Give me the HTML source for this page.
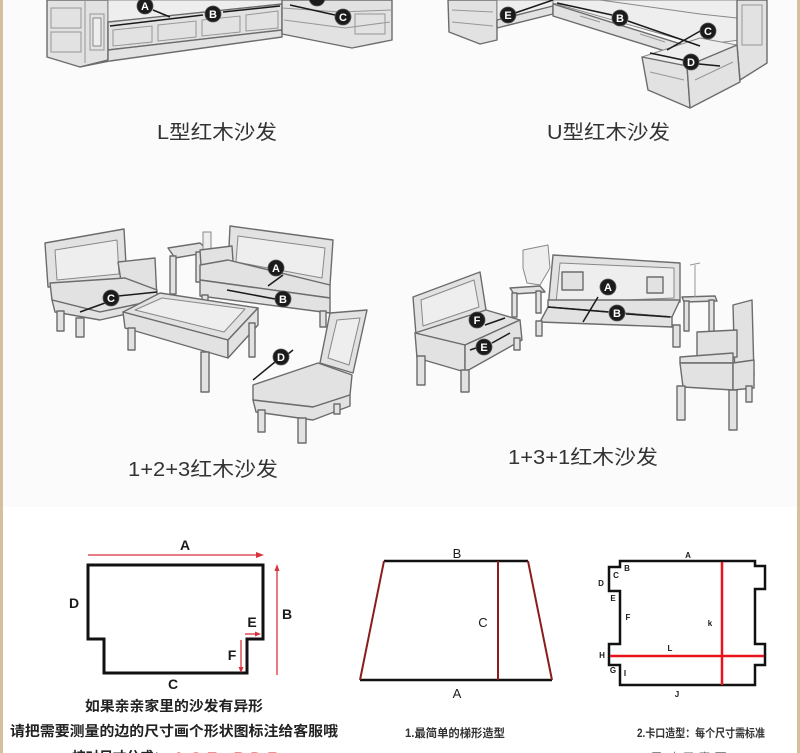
<!DOCTYPE html>
<html><head><meta charset="utf-8"><style>
html,body{margin:0;padding:0;background:#fff;}
svg{display:block;}
.f{fill:#e2e2e2;stroke:#6c6c6c;stroke-width:1.4;stroke-linejoin:round}
.g{fill:#eeeeee;stroke:#888;stroke-width:1;stroke-linejoin:round}
.d{fill:none;stroke:#979797;stroke-width:1}
.k{fill:none;stroke:#1a1a1a;stroke-width:1.5}
.t{font-family:"Liberation Sans","Noto Sans CJK SC",sans-serif;}
.bd circle{fill:#1b1b1b;stroke:#555;stroke-width:0.8}
.bd text{fill:#fff;font-family:"Liberation Sans",sans-serif;font-size:11px;font-weight:bold;text-anchor:middle}
</style></head><body>
<svg width="800" height="753" viewBox="0 0 800 753" xmlns="http://www.w3.org/2000/svg">
<!-- backgrounds -->
<rect x="0" y="0" width="800" height="507" fill="#fbfbfb"/>
<rect x="0" y="507" width="800" height="246" fill="#ffffff"/>
<rect x="0" y="0" width="3" height="753" fill="#d5bf9e"/>
<rect x="797" y="0" width="3" height="753" fill="#d5bf9e"/>

<!-- ===== L sofa ===== -->
<g>
<polygon class="f" points="47,0 108,0 108,60 80,67 47,57"/>
<polyline class="d" points="85,0 85,63"/>
<rect class="d" x="90" y="14" width="14" height="36"/>
<rect class="g" x="93" y="18" width="8" height="28"/>
<rect class="d" x="51" y="8" width="30" height="20"/>
<rect class="d" x="51" y="32" width="30" height="20"/>
<polygon class="g" points="108,0 282,0 282,4 108,22"/>
<polygon class="f" points="108,22 282,4 282,30 108,50"/>
<polygon class="d" points="113,30 152,26 152,42 113,46"/>
<polygon class="d" points="158,25 196,21 196,37 158,41"/>
<polygon class="d" points="202,20 240,16 240,32 202,36"/>
<polygon class="d" points="246,15 278,11 278,28 246,31"/>
<polygon class="f" points="80,67 108,60 108,50 282,30 282,37 110,61"/>
<polygon class="f" points="282,0 392,0 392,40 352,48 282,34"/>
<polyline class="d" points="282,8 340,12 392,10"/>
<polyline class="d" points="284,20 345,28 390,22"/>
<rect class="d" x="355" y="14" width="30" height="20"/>
<polyline class="k" points="110,26 203,15"/>
<polyline class="k" points="223,12 280,6"/>
<polyline class="k" points="153,10 170,17"/>
<polyline class="k" points="290,5 335,15"/>
<g class="bd"><circle cx="317" cy="-2" r="8"/></g>
<g class="bd"><circle cx="145" cy="6" r="8"/><text x="145" y="10">A</text></g>
<g class="bd"><circle cx="213" cy="14" r="8"/><text x="213" y="18">B</text></g>
<g class="bd"><circle cx="343" cy="17" r="8"/><text x="343" y="21">C</text></g>
</g>

<!-- ===== U sofa ===== -->
<g>
<polygon class="f" points="448,0 497,0 497,40 480,44 449,32"/>
<polyline class="d" points="452,10 493,12"/>
<polyline class="d" points="452,22 493,26"/>
<polygon class="g" points="497,0 553,0 553,6 497,20"/>
<polygon class="f" points="497,20 553,6 553,14 497,28"/>
<polygon class="g" points="553,0 740,0 740,40 700,45 553,3"/>
<polygon class="g" points="600,0 737,0 737,18 700,14" fill="#dcdcdc"/>
<polygon class="f" points="553,4 700,50 700,62 553,16"/>
<polyline class="d" points="580,16 600,22"/>
<polyline class="d" points="640,34 665,42"/>
<polygon class="f" points="737,0 767,0 767,63 740,80 737,45"/>
<rect class="d" x="742" y="5" width="20" height="40"/>
<polygon class="g" points="642,57 700,38 737,45 687,66"/>
<polygon class="f" points="642,57 687,66 690,108 648,90"/>
<polygon class="f" points="687,66 737,45 740,82 690,108"/>
<polyline class="d" points="650,72 684,80"/>
<polyline class="d" points="695,80 733,62"/>
<polyline class="k" points="515,13 553,0"/>
<polyline class="k" points="557,3 612,15"/>
<polyline class="k" points="628,21 700,46"/>
<polyline class="k" points="667,50 702,30"/>
<polyline class="k" points="650,53 683,60"/>
<polyline class="k" points="699,64 720,66"/>
<g class="bd"><circle cx="508" cy="15" r="8"/><text x="508" y="19">E</text></g>
<g class="bd"><circle cx="620" cy="18" r="8"/><text x="620" y="22">B</text></g>
<g class="bd"><circle cx="708" cy="31" r="8"/><text x="708" y="35">C</text></g>
<g class="bd"><circle cx="691" cy="62" r="8"/><text x="691" y="66">D</text></g>
</g>

<text class="t" x="157" y="139" font-size="20" fill="#333" textLength="120" lengthAdjust="spacingAndGlyphs">L型红木沙发</text>
<text class="t" x="547" y="139" font-size="20" fill="#333" textLength="123" lengthAdjust="spacingAndGlyphs">U型红木沙发</text>

<!-- ===== 1+2+3 ===== -->
<g>
<polygon class="f" points="45,243 124,229 127,282 48,287"/>
<polygon class="g" points="55,250 117,240 119,274 57,280"/>
<polygon class="f" points="118,262 155,258 157,300 125,306"/>
<polygon class="f" points="50,283 125,278 157,290 157,300 100,312 52,300"/>
<polygon class="f" points="52,300 100,312 157,300 157,307 100,320 55,312"/>
<rect class="f" x="57" y="311" width="7" height="20"/>
<rect class="f" x="76" y="318" width="8" height="19"/>
<rect class="f" x="149" y="305" width="6" height="11"/>
<polygon class="f" points="168,248 200,243 210,252 175,258"/>
<rect class="f" x="170" y="256" width="6" height="38"/>
<rect class="f" x="196" y="252" width="6" height="30"/>
<rect class="g" x="203" y="232" width="8" height="18"/>
<polygon class="f" points="230,226 333,240 330,285 228,268"/>
<polygon class="g" points="238,236 325,248 322,278 236,262"/>
<polygon class="f" points="200,250 232,246 234,276 202,282"/>
<polygon class="f" points="200,265 228,260 330,285 330,298 200,280"/>
<polygon class="f" points="200,280 330,298 330,313 200,296"/>
<rect class="f" x="202" y="295" width="6" height="24"/>
<rect class="f" x="320" y="311" width="6" height="16"/>
<polygon class="f" points="123,312 160,293 258,308 228,340"/>
<polygon class="g" points="135,310 162,298 245,309 224,332"/>
<polygon class="f" points="123,312 228,340 228,358 125,328"/>
<polygon class="f" points="228,340 258,308 258,325 228,358"/>
<rect class="f" x="128" y="328" width="7" height="22"/>
<rect class="f" x="201" y="352" width="8" height="40"/>
<rect class="f" x="249" y="323" width="6" height="34"/>
<polygon class="f" points="330,313 367,310 353,373 320,363"/>
<polygon class="g" points="337,320 360,318 349,365 328,358"/>
<polygon class="f" points="253,385 318,363 352,375 350,395 313,407 253,400"/>
<polygon class="f" points="253,400 313,407 350,395 350,406 313,420 256,412"/>
<rect class="f" x="258" y="410" width="7" height="22"/>
<rect class="f" x="298" y="418" width="8" height="25"/>
<rect class="f" x="334" y="404" width="6" height="10"/>
<polyline class="k" points="268,286 283,275"/>
<polyline class="k" points="227,290 275,299"/>
<polyline class="k" points="80,312 105,303"/>
<polyline class="k" points="118,296 157,292"/>
<polyline class="k" points="253,380 275,362"/>
<polyline class="k" points="288,354 293,350"/>
<g class="bd"><circle cx="276" cy="268" r="8"/><text x="276" y="272">A</text></g>
<g class="bd"><circle cx="283" cy="299" r="8"/><text x="283" y="303">B</text></g>
<g class="bd"><circle cx="111" cy="298" r="8"/><text x="111" y="302">C</text></g>
<g class="bd"><circle cx="281" cy="357" r="8"/><text x="281" y="361">D</text></g>
</g>

<!-- ===== 1+3+1 ===== -->
<g>
<polygon class="f" points="413,297 480,272 486,310 416,335"/>
<polygon class="g" points="421,300 474,280 479,307 423,326"/>
<polygon class="f" points="415,333 486,310 520,320 465,345"/>
<polygon class="f" points="415,333 465,345 465,372 417,358"/>
<polygon class="f" points="465,345 520,320 522,340 465,372"/>
<rect class="f" x="417" y="356" width="8" height="29"/>
<rect class="f" x="461" y="370" width="8" height="22"/>
<rect class="f" x="514" y="338" width="6" height="12"/>
<polygon class="f" points="510,288 540,286 545,292 514,294"/>
<rect class="f" x="512" y="293" width="5" height="24"/>
<rect class="f" x="536" y="291" width="5" height="22"/>
<polygon class="g" points="523,250 548,245 550,268 540,285 527,283 523,268"/>
<polygon class="f" points="553,255 680,263 680,302 548,308"/>
<polygon class="g" points="560,263 674,268 674,298 556,303"/>
<rect class="f" x="562" y="272" width="21" height="18"/>
<rect class="f" x="647" y="277" width="16" height="16"/>
<polygon class="f" points="548,300 680,300 672,317 548,307"/>
<polygon class="f" points="548,307 672,317 672,327 540,322"/>
<rect class="f" x="536" y="321" width="6" height="15"/>
<rect class="f" x="673" y="325" width="7" height="22"/>
<polygon class="f" points="682,297 715,296 717,301 684,302"/>
<rect class="f" x="684" y="301" width="5" height="30"/>
<rect class="f" x="709" y="300" width="5" height="33"/>
<polyline class="d" points="695,297 695,265"/>
<polyline class="d" points="690,265 700,263"/>
<polygon class="f" points="733,305 752,300 754,375 735,380"/>
<polygon class="f" points="697,332 737,330 737,357 697,358"/>
<polygon class="f" points="680,357 733,353 733,363 680,363"/>
<polygon class="f" points="680,363 733,363 733,390 683,387"/>
<polygon class="f" points="733,363 754,360 754,388 733,390"/>
<rect class="f" x="677" y="386" width="8" height="34"/>
<rect class="f" x="729" y="390" width="8" height="40"/>
<rect class="f" x="746" y="386" width="6" height="16"/>
<polyline class="k" points="583,322 598,297"/>
<polyline class="k" points="548,307 608,312"/>
<polyline class="k" points="626,314 670,317"/>
<polyline class="k" points="485,325 505,318"/>
<polyline class="k" points="470,350 476,348"/>
<polyline class="k" points="492,343 510,333"/>
<g class="bd"><circle cx="608" cy="287" r="8"/><text x="608" y="291">A</text></g>
<g class="bd"><circle cx="617" cy="313" r="8"/><text x="617" y="317">B</text></g>
<g class="bd"><circle cx="477" cy="320" r="8"/><text x="477" y="324">F</text></g>
<g class="bd"><circle cx="484" cy="347" r="8"/><text x="484" y="351">E</text></g>
</g>

<text class="t" x="128" y="476" font-size="20" fill="#333" textLength="150" lengthAdjust="spacingAndGlyphs">1+2+3红木沙发</text>
<text class="t" x="508" y="464" font-size="20" fill="#333" textLength="150" lengthAdjust="spacingAndGlyphs">1+3+1红木沙发</text>

<!-- ===== Diagram 1 ===== -->
<path d="M88,565 H263 V639 H247 V673 H104 V639 H88 Z" fill="none" stroke="#111" stroke-width="3" stroke-linejoin="miter"/>
<line x1="88" y1="555" x2="258" y2="555" stroke="#d8323c" stroke-width="1.3"/>
<polygon points="264,555 256,552 256,558" fill="#d8323c"/>
<line x1="277" y1="570" x2="277" y2="675" stroke="#d8323c" stroke-width="1.3"/>
<polygon points="277,564 274.5,571 279.5,571" fill="#d8323c"/>
<line x1="245" y1="634" x2="256" y2="634" stroke="#d8323c" stroke-width="1.3"/>
<polygon points="261,634 255,631.5 255,636.5" fill="#d8323c"/>
<line x1="241" y1="640" x2="241" y2="668" stroke="#d8323c" stroke-width="1.3"/>
<polygon points="241,673 238.5,667 243.5,667" fill="#d8323c"/>
<g class="t" font-size="14" font-weight="bold" fill="#1a1a1a" text-anchor="middle">
<text x="185" y="550">A</text>
<text x="287" y="619">B</text>
<text x="74" y="608">D</text>
<text x="252" y="627">E</text>
<text x="232" y="660">F</text>
<text x="173" y="689">C</text>
</g>
<text class="t" x="85" y="711" font-size="14" font-weight="bold" fill="#222" textLength="178" lengthAdjust="spacingAndGlyphs">如果亲亲家里的沙发有异形</text>
<text class="t" x="10" y="736" font-size="14" font-weight="bold" fill="#222" textLength="328" lengthAdjust="spacingAndGlyphs">请把需要测量的边的尺寸画个形状图标注给客服哦</text>
<text class="t" x="72" y="762" font-size="14" font-weight="bold" fill="#222" textLength="95" lengthAdjust="spacingAndGlyphs">核对尺寸分成：</text>
<text class="t" x="173" y="762" font-size="14" font-weight="bold" fill="#e02020" textLength="104" lengthAdjust="spacingAndGlyphs">A-C-E、B-D-F</text>

<!-- ===== Diagram 2 ===== -->
<line x1="384" y1="561" x2="528" y2="561" stroke="#111" stroke-width="2.5"/>
<line x1="360" y1="680" x2="552" y2="680" stroke="#111" stroke-width="2.5"/>
<line x1="384" y1="561" x2="360" y2="680" stroke="#8b1c1c" stroke-width="2"/>
<line x1="528" y1="561" x2="552" y2="680" stroke="#8b1c1c" stroke-width="2"/>
<line x1="498" y1="561" x2="498" y2="680" stroke="#8b1c1c" stroke-width="2"/>
<g class="t" font-size="13" fill="#1a1a1a" text-anchor="middle">
<text x="457" y="558">B</text>
<text x="457" y="698">A</text>
<text x="483" y="627">C</text>
</g>
<text class="t" x="405" y="737" font-size="11.5" font-weight="bold" fill="#333" textLength="100" lengthAdjust="spacingAndGlyphs">1.最简单的梯形造型</text>

<!-- ===== Diagram 3 ===== -->
<path d="M620,561 H755 V566 H765 V589 H755 V644 H765 V665 H755 V685 H620 V665 H609 V644 H620 V591 H609 V567 H620 Z" fill="none" stroke="#111" stroke-width="2.5"/>
<line x1="722" y1="562" x2="722" y2="685" stroke="#e8141b" stroke-width="2.5"/>
<line x1="610" y1="656" x2="764" y2="656" stroke="#e8141b" stroke-width="2.5"/>
<g class="t" font-size="8" font-weight="bold" fill="#1a1a1a" text-anchor="middle">
<text x="688" y="558">A</text>
<text x="627" y="571">B</text>
<text x="616" y="578">C</text>
<text x="601" y="586">D</text>
<text x="613" y="601">E</text>
<text x="628" y="620">F</text>
<text x="710" y="626">k</text>
<text x="670" y="651">L</text>
<text x="602" y="658">H</text>
<text x="613" y="673">G</text>
<text x="625" y="676">I</text>
<text x="677" y="697">J</text>
</g>
<text class="t" x="637" y="737" font-size="11.5" font-weight="bold" fill="#333" textLength="128" lengthAdjust="spacingAndGlyphs">2.卡口造型：每个尺寸需标准</text>
<text class="t" x="650" y="761" font-size="11" fill="#666" textLength="77" lengthAdjust="spacingAndGlyphs">尺 寸 示 意 图</text>
</svg>
</body></html>
